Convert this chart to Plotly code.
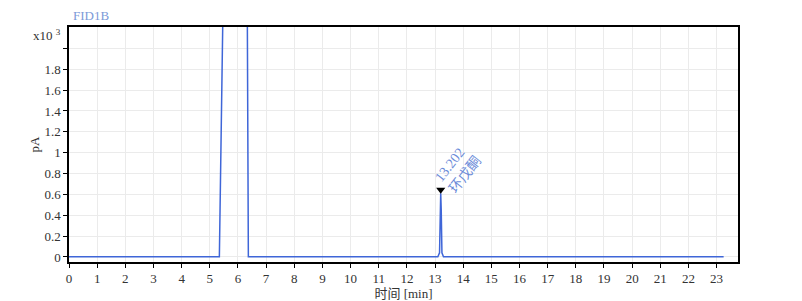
import plotly.graph_objects as go

# Chromatogram data (time in min, signal in x10^3 pA)
time_min = [0.0, 2.0, 4.0, 5.0, 5.34, 5.475, 6.33, 6.37, 8.0, 10.0, 12.0, 13.10, 13.16, 13.185, 13.202, 13.22, 13.245, 13.30, 15.0, 18.0, 21.0, 23.25]
signal = [0.003, 0.003, 0.003, 0.003, 0.003, 2.5, 2.5, 0.003, 0.003, 0.003, 0.003, 0.003, 0.04, 0.45, 0.61, 0.45, 0.04, 0.003, 0.003, 0.003, 0.003, 0.003]

peak_time = [13.202]
peak_marker_y = [0.645]
peak_label = ["13.202<br>环戊酮"]

y_tickvals = [0, 0.2, 0.4, 0.6, 0.8, 1.0, 1.2, 1.4, 1.6, 1.8, 2.0]
y_ticktext = ["0", "0.2", "0.4", "0.6", "0.8", "1", "1.2", "1.4", "1.6", "1.8", " "]
x_tickvals = list(range(0, 24))

FONT = "Liberation Serif, Noto Sans CJK SC"

fig = go.Figure()
fig.add_trace(go.Scatter(x=time_min, y=signal, mode="lines",
                         line=dict(color="#3f66d8", width=1.5), showlegend=False))
fig.add_trace(go.Scatter(x=peak_time, y=peak_marker_y, mode="markers",
                         marker=dict(symbol="triangle-down", size=8, color="black"),
                         showlegend=False))

fig.add_annotation(x=peak_time[0], y=0.63, xref="x", yref="y", text=peak_label[0],
                   showarrow=False, textangle=-52, xanchor="left", yanchor="bottom",
                   xshift=-11, yshift=-7, font=dict(family=FONT, size=14, color="#6a8ad8"),
                   align="left")

fig.add_annotation(x=0, y=1, xref="paper", yref="paper", text="x10 <sup>3</sup>",
                   showarrow=False, xanchor="right", yanchor="middle", xshift=-6, yshift=-8,
                   font=dict(family=FONT, size=13, color="#333"))

fig.update_layout(
    width=802, height=301,
    margin=dict(l=69, r=64, t=27, b=39, autoexpand=False),
    paper_bgcolor="white", plot_bgcolor="white",
    title=dict(text="FID1B", x=73/802, xanchor="left", y=1-15/301, yanchor="middle",
               font=dict(family=FONT, size=13, color="#7b9ad8"), automargin=False),
    font=dict(family=FONT, size=13, color="#333"),
)
fig.update_xaxes(range=[0, 23.76], tickvals=x_tickvals, ticks="outside", ticklen=4,
                 tickcolor="black", showline=True, linecolor="black", linewidth=1.5,
                 mirror=True, showgrid=True, gridcolor="#ebebeb", zeroline=False,
                 automargin=False,
                 title=dict(text="时间 [min]", standoff=0, font=dict(size=13)))
fig.update_yaxes(range=[-0.048, 2.205], tickvals=y_tickvals, ticktext=y_ticktext,
                 ticks="outside", ticklen=4, tickcolor="black", showline=True,
                 linecolor="black", linewidth=1.5, mirror=True, showgrid=True,
                 gridcolor="#ebebeb", zeroline=False, automargin=False,
                 title=dict(text="pA", standoff=2, font=dict(size=13)))

fig.write_html("out.html")
